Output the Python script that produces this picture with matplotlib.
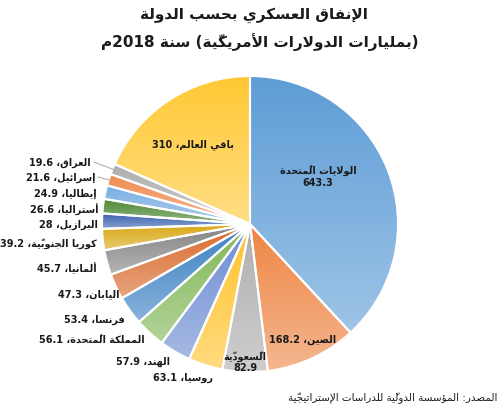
import matplotlib
matplotlib.use('Agg')
import matplotlib.pyplot as plt
import numpy as np
from matplotlib.colors import to_rgb

plt.rcParams['font.family'] = ['DejaVu Sans']

# data
countries = ['الولايات المُتحدة', 'الصين', 'السّعوديّة', 'روسيا', 'الهند',
             'المملكة المُتحدة', 'فرنسا', 'اليابان', 'ألمانيا', 'كوريا الجنوبيّة',
             'البرازيل', 'أستراليا', 'إيطاليا', 'إسرائيل', 'العراق', 'باقي العالم']
spending = [643.3, 168.2, 82.9, 63.1, 57.9, 56.1, 53.4, 47.3, 45.7, 39.2,
            28, 26.6, 24.9, 21.6, 19.6, 310]
colors = ['#5E9DD6', '#EE8644', '#AEAEAE', '#FFC22A', '#6B8BD2', '#7FB755',
          '#3A80C2', '#D9692A', '#848484', '#D9A712', '#3A62B0', '#4C8733',
          '#78AEE2', '#F08C50', '#AEAEAE', '#FFC833']
title1 = 'الإنفاق العسكري بحسب الدولة'
title2 = '(بمليارات الدولارات الأمريكيّة) سنة 2018م'
source = 'المصدر: المؤسسة الدوليّة للدراسات الإستراتيجيّة'

# label positions in pixels (x, y) of the 500x410 picture
label_px = [(318, 177), (303, 340), (245, 362), (213, 378), (170, 362),
            (145, 341), (125, 320), (120, 294), (97, 268), (97, 244),
            (98, 225), (98, 210), (97, 194), (95, 178), (91, 163), (193, 145)]
inside = {0, 1, 2, 15}
two_line = {0, 2}
leaders = {13, 14}


# --- tiny arabic shaping + rtl ordering, matplotlib does none of it ---
ISO = {'ء': 0xFE80, 'آ': 0xFE81, 'أ': 0xFE83, 'ؤ': 0xFE85, 'إ': 0xFE87,
       'ئ': 0xFE89, 'ا': 0xFE8D, 'ب': 0xFE8F, 'ة': 0xFE93, 'ت': 0xFE95,
       'ث': 0xFE99, 'ج': 0xFE9D, 'ح': 0xFEA1, 'خ': 0xFEA5, 'د': 0xFEA9,
       'ذ': 0xFEAB, 'ر': 0xFEAD, 'ز': 0xFEAF, 'س': 0xFEB1, 'ش': 0xFEB5,
       'ص': 0xFEB9, 'ض': 0xFEBD, 'ط': 0xFEC1, 'ظ': 0xFEC5, 'ع': 0xFEC9,
       'غ': 0xFECD, 'ف': 0xFED1, 'ق': 0xFED5, 'ك': 0xFED9, 'ل': 0xFEDD,
       'م': 0xFEE1, 'ن': 0xFEE5, 'ه': 0xFEE9, 'و': 0xFEED, 'ى': 0xFEEF,
       'ي': 0xFEF1}
RIGHT_ONLY = set('آأؤإاةدذرزوى')
LAM_ALEF = {'آ': 0xFEF5, 'أ': 0xFEF7, 'إ': 0xFEF9, 'ا': 0xFEFB}
MARKS = set(chr(c) for c in range(0x064B, 0x0653)) | {'\u0670'}
MIRROR = {'(': ')', ')': '('}


def jtype(base):
    if base.startswith('LA'):
        return 'R'
    if base not in ISO or base == 'ء':
        return 'U'
    return 'R' if base in RIGHT_ONLY else 'D'


def ar(text):
    units = []
    for ch in text:
        if ch in MARKS and units:
            units[-1].append(ch)
        else:
            units.append([ch])
    merged = []
    i = 0
    while i < len(units):
        if units[i][0] == 'ل' and i + 1 < len(units) and units[i + 1][0] in LAM_ALEF:
            merged.append(['LA' + units[i + 1][0]] + units[i][1:] + units[i + 1][1:])
            i += 2
        else:
            merged.append(units[i])
            i += 1
    shaped = []
    for i, u in enumerate(merged):
        t = jtype(u[0])
        prev_t = jtype(merged[i - 1][0]) if i > 0 else 'U'
        next_t = jtype(merged[i + 1][0]) if i + 1 < len(merged) else 'U'
        jp = t in 'DR' and prev_t == 'D'
        jn = t == 'D' and next_t in 'DR'
        b = u[0]
        if b.startswith('LA'):
            g = chr(LAM_ALEF[b[2]] + (1 if jp else 0))
        elif t == 'D':
            g = chr(ISO[b] + (3 if jp and jn else 1 if jp else 2 if jn else 0))
        elif t == 'R' or b == 'ء':
            g = chr(ISO[b] + (1 if jp else 0))
        else:
            g = MIRROR.get(b, b)
        shaped.append(g + ''.join(u[1:]))
    # group digit runs (they stay left to right)
    tokens = []
    for s in shaped:
        if s in '0123456789.' and tokens and tokens[-1][0] == 'num':
            tokens[-1][1] += s
        elif s.isdigit():
            tokens.append(['num', s])
        else:
            tokens.append(['rtl', s])
    return ''.join(t[1] for t in reversed(tokens))


fig = plt.figure(figsize=(5, 4.1), dpi=100)
ax = fig.add_axes([102 / 500, 37 / 410, 296 / 500, 296 / 410])
wedges, _ = ax.pie(spending, colors=colors, startangle=90, counterclock=False,
                   radius=1, wedgeprops=dict(edgecolor='white', linewidth=1.5))

# excel-like soft vertical gradient inside every slice
t = np.linspace(0, 1, 128)[:, None, None]
for w, c in zip(wedges, colors):
    c = np.array(to_rgb(c))
    bot = c + (1 - c) * 0.4
    img = c * (1 - t) + bot * t
    ext = w.get_path().get_extents()
    im = ax.imshow(img, extent=[ext.x0, ext.x1, ext.y0, ext.y1], origin='upper',
                   aspect='auto', interpolation='bilinear', zorder=0.9)
    im.set_clip_path(w)
    w.set_facecolor('none')

ax.set_xlim(-1, 1)
ax.set_ylim(-1, 1)
ax.axis('off')


def to_data(x, y):
    return (x - 250) / 148.0, (225 - y) / 148.0


txt = '#1a1a1a'
for i, (name, v) in enumerate(zip(countries, spending)):
    x, y = to_data(*label_px[i])
    if i in two_line:
        s = ar(name) + '\n' + f'{v:g}'
    else:
        s = ar(f'{name}، {v:g}')
    ax.text(x, y, s, ha='center' if i in inside else 'right', va='center',
            fontsize=7, fontweight='bold', color=txt,
            linespacing=1.15, multialignment='center', zorder=5)
    if i in leaders:
        w = wedges[i]
        mid = np.deg2rad((w.theta1 + w.theta2) / 2)
        ax.plot([x + 0.02, np.cos(mid) * 0.99], [y, np.sin(mid) * 0.99],
                color='#a6a6a6', lw=0.7, clip_on=False)

fig.text(254 / 500, 1 - 15 / 410, ar(title1), ha='center', va='center',
         fontsize=11, fontweight='bold', color=txt)
fig.text(260 / 500, 1 - 42 / 410, ar(title2), ha='center', va='center',
         fontsize=11, fontweight='bold', color=txt)
fig.text(497 / 500, 1 - 398 / 410, ar(source), ha='right', va='center',
         fontsize=7.5, color=txt)

fig.savefig('out.png', dpi=100)
